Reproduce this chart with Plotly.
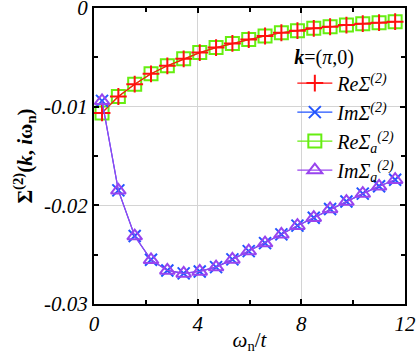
import plotly.graph_objects as go

# Matsubara frequencies omega_n / t
omega = [0.31, 0.94, 1.57, 2.20, 2.83, 3.46, 4.08, 4.71, 5.34, 5.97,
         6.60, 7.23, 7.85, 8.48, 9.11, 9.74, 10.37, 11.00, 11.62]

re_sigma = [-0.01063, -0.00897, -0.00772, -0.00667, -0.00586, -0.00515, -0.00452,
            -0.00401, -0.00359, -0.00320, -0.00284, -0.00251, -0.00230, -0.00206,
            -0.00190, -0.00173, -0.00159, -0.00149, -0.00139]
im_sigma = [-0.00941, -0.01848, -0.02311, -0.02552, -0.02660, -0.02690, -0.02670,
            -0.02626, -0.02548, -0.02464, -0.02383, -0.02294, -0.02206, -0.02125,
            -0.02037, -0.01962, -0.01881, -0.01807, -0.01740]
# the approximated self-energy lies on top of the full one
re_sigma_a = list(re_sigma)
im_sigma_a = list(im_sigma)

x_ticks = [0, 4, 8, 12]
y_ticks = [0, -0.01, -0.02, -0.03]
y_ticktext = ["0", "-0.01", "-0.02", "-0.03"]

FONT = "Liberation Serif"

fig = go.Figure()

fig.add_trace(go.Scatter(
    x=omega, y=re_sigma_a, mode="lines+markers",
    name="<i>ReΣ</i><sub><i>a</i></sub><sup><i>(2)</i></sup>",
    line=dict(color="#66ee11", width=1.2),
    marker=dict(symbol="square-open", size=13, line=dict(width=2, color="#66ee11")),
    legendrank=3))
fig.add_trace(go.Scatter(
    x=omega, y=re_sigma, mode="lines+markers",
    name="<i>ReΣ</i><sup><i>(2)</i></sup>",
    line=dict(color="#ff1010", width=1.2),
    marker=dict(symbol="cross-thin-open", size=12, line=dict(width=2, color="#ff1010")),
    legendrank=1))
fig.add_trace(go.Scatter(
    x=omega, y=im_sigma, mode="lines+markers",
    name="<i>ImΣ</i><sup><i>(2)</i></sup>",
    line=dict(color="#2255ff", width=1.2),
    marker=dict(symbol="x-thin-open", size=12, line=dict(width=2, color="#2255ff")),
    legendrank=2))
fig.add_trace(go.Scatter(
    x=omega, y=im_sigma_a, mode="lines+markers",
    name="<i>ImΣ</i><sub><i>a</i></sub><sup><i>(2)</i></sup>",
    line=dict(color="#9944ee", width=1.2),
    marker=dict(symbol="triangle-up-open", size=13, line=dict(width=2, color="#9944ee")),
    legendrank=4))

axis_common = dict(
    showline=True, linecolor="black", linewidth=2, mirror="ticks",
    ticks="inside", ticklen=5, tickwidth=1.5, tickcolor="black",
    showgrid=True, gridcolor="#d4d4d4", gridwidth=1, zeroline=False,
    tickfont=dict(family=FONT, size=21, style="italic", color="black"),
    ticklabeloverflow="allow", automargin=False,
)

fig.update_xaxes(
    range=[0, 12], tickmode="array", tickvals=x_ticks,
    ticktext=[str(v) for v in x_ticks],
    minor=dict(tickvals=[2, 6, 10], ticks="inside", ticklen=4, tickcolor="black"),
    title=dict(text="<i>ω</i><sub>n</sub>/<i>t</i>", font=dict(family=FONT, size=21, color="black"),
               standoff=0),
    **axis_common)
fig.update_yaxes(
    range=[-0.03, 0], tickmode="array", tickvals=y_ticks, ticktext=y_ticktext,
    minor=dict(tickvals=[-0.005, -0.015, -0.025], ticks="inside", ticklen=4, tickcolor="black"),
    title=dict(text="<b>Σ<sup>(2)</sup>(<i>k</i>, <i>i</i>ω<sub>n</sub>)</b>",
               font=dict(family=FONT, size=21, color="black"), standoff=6),
    **axis_common)

fig.update_layout(
    width=416, height=354,
    margin=dict(l=94, r=11, t=8, b=50),
    plot_bgcolor="white", paper_bgcolor="white",
    font=dict(family=FONT, color="black"),
    legend=dict(
        x=0.985, xanchor="right", y=0.9, yanchor="top",
        bgcolor="rgba(0,0,0,0)", borderwidth=0,
        font=dict(family=FONT, size=20, color="black"),
        title=dict(text="<b><i>k</i></b>=(<i>π</i>,0)",
                   font=dict(family=FONT, size=20, color="black")),
        tracegroupgap=0, itemwidth=35,
    ),
)

fig.write_html("out.html", config={"displayModeBar": False},
               post_script="document.body.style.margin='0';")
